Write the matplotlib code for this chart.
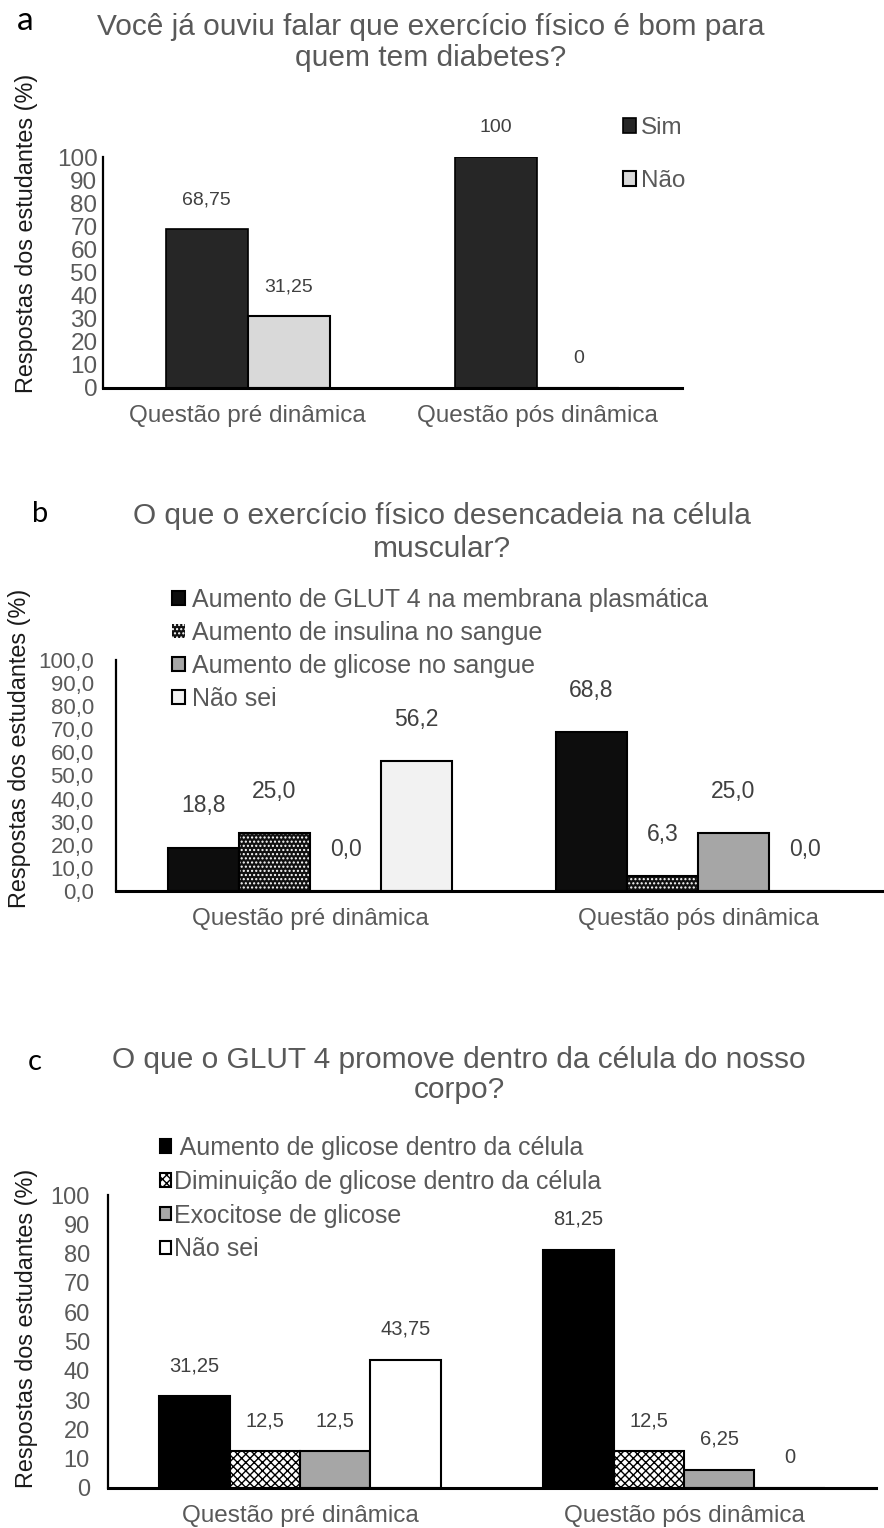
import numpy as np
import matplotlib
matplotlib.use("Agg")
import matplotlib.pyplot as plt

plt.rcParams['font.family'] = ['Liberation Sans', 'DejaVu Sans']

# Data
categories = ["Questão pré dinâmica", "Questão pós dinâmica"]

# a
a_series = ["Sim", "Não"]
a_sim = [68.75, 100]
a_nao = [31.25, 0]

# b
b_series = ["Aumento de GLUT 4 na membrana plasmática",
            "Aumento de insulina no sangue",
            "Aumento de glicose no sangue",
            "Não sei"]
b_glut4 = [18.8, 68.8]
b_insulina = [25.0, 6.3]
b_glicose = [0.0, 25.0]
b_naosei = [56.2, 0.0]

# c
c_series = [" Aumento de glicose dentro da célula",
            "Diminuição de glicose dentro da célula",
            "Exocitose de glicose",
            "Não sei"]
c_aumento = [31.25, 81.25]
c_diminuicao = [12.5, 12.5]
c_exocitose = [12.5, 6.25]
c_naosei = [43.75, 0]

W, H = 884, 1528
GRAY = '#595959'
fig = plt.figure(figsize=(W / 100, H / 100), dpi=100)


def box(l, r, top, bot):
    return [l / W, 1 - bot / H, (r - l) / W, (bot - top) / H]


def fx(x):
    return x / W


def fy(y):
    return 1 - y / H


def comma(v, fmt):
    return format(v, fmt).replace('.', ',')


def style_axis(ax, ticks, tickfmt, ytick_size, ypad):
    ax.set_xlim(-0.5, 1.5)
    ax.set_ylim(0, 100)
    ax.set_yticks(ticks)
    ax.set_yticklabels([comma(t, tickfmt) for t in ticks])
    ax.set_xticks(np.arange(len(categories)))
    ax.set_xticklabels(categories)
    ax.tick_params(axis='y', length=0, labelsize=ytick_size, labelcolor=GRAY, pad=ypad)
    ax.tick_params(axis='x', length=0, labelsize=17.5, labelcolor=GRAY, pad=12)
    for s in ['top', 'right']:
        ax.spines[s].set_visible(False)
    ax.spines['left'].set_linewidth(1.6)
    ax.spines['bottom'].set_linewidth(2.2)
    ax.set_facecolor('none')


def value_labels(ax, xs, vals, fmt, size, off):
    for x, v in zip(xs, vals):
        ax.annotate(comma(v, fmt), (x, v), xytext=(0, off), textcoords='offset points',
                    ha='center', va='center', fontsize=size, color='#404040')


def titles(letter, lsize, lx, ly, line1, line2, cx, y1, y2):
    fig.text(fx(lx), fy(ly), letter, fontsize=lsize, ha='center', va='baseline',
             color='black', family=['Lato', 'DejaVu Sans'])
    fig.text(fx(cx), fy(y1), line1, fontsize=21.5, ha='center', va='baseline', color=GRAY)
    fig.text(fx(cx), fy(y2), line2, fontsize=21.5, ha='center', va='baseline', color=GRAY)


def add_legend(handles, x0, y0, size, hl, ls, tp):
    fig.legend(handles=handles, loc='upper left', bbox_to_anchor=(fx(x0), fy(y0)),
               frameon=False, borderpad=0, borderaxespad=0, handlelength=hl, handleheight=hl,
               handletextpad=tp, labelspacing=ls, fontsize=size, labelcolor=GRAY)


x = np.arange(len(categories))

# ---------------- panel a ----------------
ax_a = fig.add_axes(box(103, 682, 157, 388))
w = 0.283
bars_sim = ax_a.bar(x - w / 2, a_sim, w, color='#262626', edgecolor='black', linewidth=1.2, label=a_series[0])
bars_nao = ax_a.bar(x + w / 2, a_nao, w, color='#d9d9d9', edgecolor='black', linewidth=1.5, label=a_series[1])
style_axis(ax_a, range(0, 101, 10), 'g', 17.5, 4)
value_labels(ax_a, x - w / 2, a_sim, 'g', 14, 21)
value_labels(ax_a, x + w / 2, a_nao, 'g', 14, 21)
add_legend([bars_sim, bars_nao], 623, 117, 17.5, 0.55, 1.29, 0.2)
titles('a', 24, 25, 30, "Você já ouviu falar que exercício físico é bom para",
       "quem tem diabetes?", 431, 35, 66)
fig.text(fx(27), fy(233), "Respostas dos estudantes (%)", rotation=90, ha='center', va='center',
         fontsize=16.8, color='#1a1a1a')

# ---------------- panel b ----------------
ax_b = fig.add_axes(box(116, 892, 660, 891))
w = 0.183
offs = np.array([-1.5, -0.5, 0.5, 1.5]) * w
b1 = ax_b.bar(x + offs[0], b_glut4, w, color='#0d0d0d', edgecolor='black', linewidth=1.5, label=b_series[0])
b2 = ax_b.bar(x + offs[1], b_insulina, w, color='#111111', edgecolor='white', hatch='....',
              linewidth=0, label=b_series[1])
ax_b.bar(x + offs[1], b_insulina, w, fill=False, edgecolor='black', linewidth=1.5)
b3 = ax_b.bar(x + offs[2], b_glicose, w, color='#a6a6a6', edgecolor='black', linewidth=1.5, label=b_series[2])
b4 = ax_b.bar(x + offs[3], b_naosei, w, color='#f2f2f2', edgecolor='black', linewidth=1.5, label=b_series[3])
style_axis(ax_b, range(0, 101, 10), '.1f', 16, 16)
for off, vals in zip(offs, [b_glut4, b_insulina, b_glicose, b_naosei]):
    value_labels(ax_b, x + off, vals, '.1f', 16.5, 30)
add_legend([b1, b2, b3, b4], 172, 588, 18, 0.5, 0.36, 0.3)
titles('b', 21, 40, 522, "O que o exercício físico desencadeia na célula",
       "muscular?", 442, 524, 557)
fig.text(fx(20), fy(748), "Respostas dos estudantes (%)", rotation=90, ha='center', va='center',
         fontsize=16.8, color='#1a1a1a')

# ---------------- panel c ----------------
ax_c = fig.add_axes(box(108, 876, 1195, 1488))
c1 = ax_c.bar(x + offs[0], c_aumento, w, color='black', edgecolor='black', linewidth=1.5, label=c_series[0])
c2 = ax_c.bar(x + offs[1], c_diminuicao, w, color='white', edgecolor='black', hatch='xxxx',
              linewidth=1.5, label=c_series[1])
c3 = ax_c.bar(x + offs[2], c_exocitose, w, color='#a6a6a6', edgecolor='black', linewidth=1.5, label=c_series[2])
c4 = ax_c.bar(x + offs[3], c_naosei, w, color='white', edgecolor='black', linewidth=1.5, label=c_series[3])
style_axis(ax_c, range(0, 101, 10), 'g', 17, 13)
for off, vals in zip(offs, [c_aumento, c_diminuicao, c_exocitose, c_naosei]):
    value_labels(ax_c, x + off, vals, 'g', 14.5, 22)
add_legend([c1, c2, c3, c4], 160, 1136, 18, 0.45, 0.39, 0.12)
titles('c', 21, 35, 1070, "O que o GLUT 4 promove dentro da célula do nosso",
       "corpo?", 459, 1068, 1098)
fig.text(fx(27), fy(1328), "Respostas dos estudantes (%)", rotation=90, ha='center', va='center',
         fontsize=16.8, color='#1a1a1a')

fig.savefig("out.png", dpi=100, facecolor='white')
